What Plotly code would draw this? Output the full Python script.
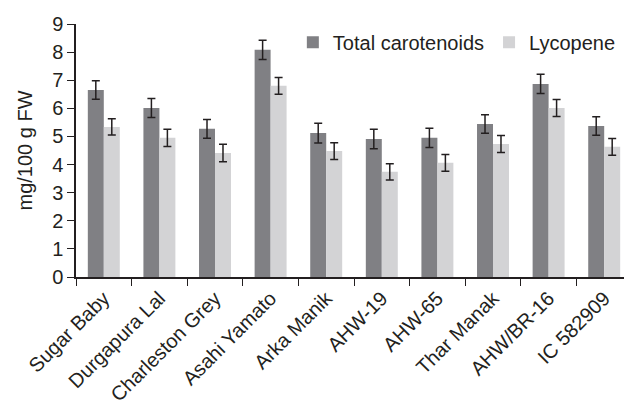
import plotly.graph_objects as go

categories = ["Sugar Baby", "Durgapura Lal", "Charleston Grey", "Asahi Yamato",
              "Arka Manik", "AHW-19", "AHW-65", "Thar Manak", "AHW/BR-16", "IC 582909"]
total_carotenoids = [6.65, 6.01, 5.27, 8.08, 5.12, 4.91, 4.95, 5.44, 6.87, 5.37]
total_err = [0.33, 0.34, 0.33, 0.34, 0.35, 0.35, 0.34, 0.33, 0.34, 0.33]
lycopene = [5.34, 4.95, 4.41, 6.80, 4.48, 3.74, 4.06, 4.73, 6.01, 4.63]
lycopene_err = [0.29, 0.31, 0.31, 0.30, 0.30, 0.29, 0.30, 0.30, 0.30, 0.30]
y_ticks = [0, 1, 2, 3, 4, 5, 6, 7, 8, 9]

ink = "#231f20"
err_style = dict(type="data", visible=True, color=ink, thickness=1.5, width=4)

fig = go.Figure()
fig.add_trace(go.Bar(
    name="Total carotenoids", x=categories, y=total_carotenoids,
    marker=dict(color="#808084", line=dict(width=0)),
    error_y=dict(array=total_err, **err_style),
))
fig.add_trace(go.Bar(
    name="Lycopene", x=categories, y=lycopene,
    marker=dict(color="#d3d3d5", line=dict(width=0)),
    error_y=dict(array=lycopene_err, **err_style),
))

# page body has an 8px default margin, so the figure is sized to fit the window
fig.update_layout(
    width=624, height=400,
    margin=dict(l=68, r=0, t=16, b=131, autoexpand=False),
    paper_bgcolor="white", plot_bgcolor="white",
    barmode="group", bargap=0.425, bargroupgap=0,
    font=dict(family="Liberation Sans, Arial, sans-serif", color=ink, size=20),
    showlegend=True,
    legend=dict(orientation="h", x=0.39, y=1.005, xanchor="left", yanchor="top",
                font=dict(size=20, color=ink), itemwidth=30,
                bgcolor="rgba(0,0,0,0)", traceorder="normal"),
    xaxis=dict(type="category", tickson="boundaries", ticks="outside", ticklen=7,
               tickwidth=1.2, tickcolor=ink, tickangle=-45, automargin=False,
               showline=True, linecolor=ink, linewidth=1.5,
               showgrid=False, tickfont=dict(size=20, color=ink)),
    yaxis=dict(range=[0, 9], tickvals=y_ticks, ticks="outside", ticklen=7,
               tickwidth=1.2, tickcolor=ink, showline=True, linecolor=ink,
               linewidth=1.5, showgrid=False, zeroline=False, automargin=False,
               tickfont=dict(size=20, color=ink),
               title=dict(text="mg/100 g FW", font=dict(size=20, color=ink), standoff=14)),
)

fig.write_html("out.html")
